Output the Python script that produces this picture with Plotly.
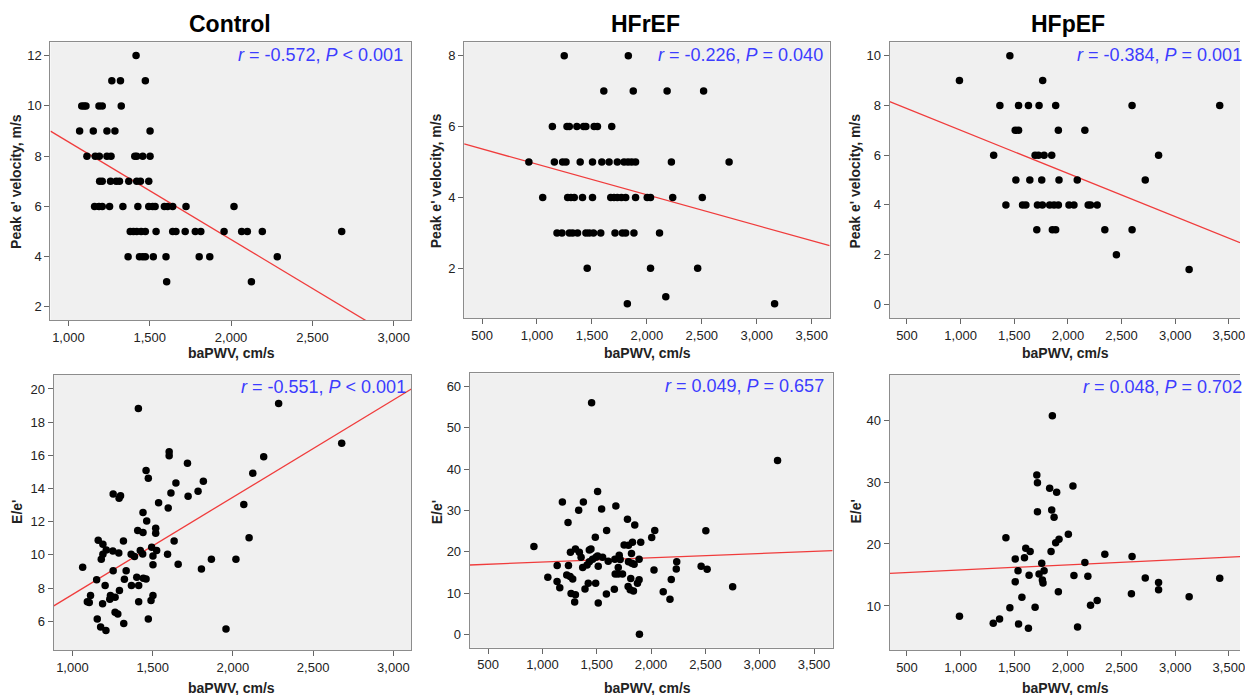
import plotly.graph_objects as go

# ---------------- DATA ----------------
group_titles = ["Control", "HFrEF", "HFpEF"]
x_label = "baPWV, cm/s"
y_label_top = "Peak e' velocity, m/s"
y_label_bottom = "E/e'"

# Control: baPWV vs peak e' velocity
ctrl_pwv_a = [1416,
              1267, 1320, 1473,
              1082, 1096, 1108, 1188, 1208, 1325,
              1069, 1153, 1237, 1286, 1502,
              1114, 1165, 1190, 1237, 1262, 1408, 1420, 1457, 1502,
              1192, 1208, 1259, 1294, 1314, 1371, 1420, 1443, 1494,
              1161, 1188, 1208, 1253, 1335, 1427, 1494, 1518, 1533, 1590, 1610, 1641, 1723, 2018,
              1380, 1400, 1420, 1447, 1473, 1539, 1641, 1661, 1718, 1780, 1814, 1957, 2065, 2100, 2192, 2680,
              1367, 1437, 1457, 1473, 1522, 1600, 1804, 1869, 2284,
              1604, 2125]
ctrl_evel = [12,
             11, 11, 11,
             10, 10, 10, 10, 10, 10,
             9, 9, 9, 9, 9,
             8, 8, 8, 8, 8, 8, 8, 8, 8,
             7, 7, 7, 7, 7, 7, 7, 7, 7,
             6, 6, 6, 6, 6, 6, 6, 6, 6, 6, 6, 6, 6, 6,
             5, 5, 5, 5, 5, 5, 5, 5, 5, 5, 5, 5, 5, 5, 5, 5,
             4, 4, 4, 4, 4, 4, 4, 4, 4,
             3, 3]

# HFrEF: baPWV vs peak e' velocity
hfr_pwv_a = [1248, 1831,
             1608, 1876, 2184, 2516,
             1140, 1273, 1294, 1363, 1424, 1445, 1520, 1550, 1680,
             926, 1158, 1233, 1264, 1393, 1505, 1590, 1656, 1731, 1792, 1828, 1861, 1897, 2223, 2748,
             1052, 1279, 1309, 1339, 1414, 1505, 1671, 1701, 1731, 1768, 1807, 1897, 2003, 2033, 2235, 2504,
             1182, 1227, 1294, 1324, 1369, 1445, 1475, 1514, 1580, 1710, 1777, 1807, 1882, 2115,
             1457, 2033, 2462,
             2172,
             1822, 3162]
hfr_evel = [8, 8,
            7, 7, 7, 7,
            6, 6, 6, 6, 6, 6, 6, 6, 6,
            5, 5, 5, 5, 5, 5, 5, 5, 5, 5, 5, 5, 5, 5, 5,
            4, 4, 4, 4, 4, 4, 4, 4, 4, 4, 4, 4, 4, 4, 4, 4,
            3, 3, 3, 3, 3, 3, 3, 3, 3, 3, 3, 3, 3, 3,
            2, 2, 2,
            1.2,
            1, 1]

# HFpEF: baPWV vs peak e' velocity
hfp_pwv_a = [1459,
             989, 1765,
             1366, 1540, 1632, 1731, 1886, 2598, 3415,
             1509, 1540, 1911, 2158,
             1308, 1694, 1725, 1778, 1849, 2845,
             1515, 1645, 1756, 1917, 2087, 2721,
             1422, 1577, 1608, 1716, 1762, 1830, 1871, 1911, 2010, 2056, 2189, 2211, 2273,
             1710, 1855, 1886, 2344, 2598,
             2452,
             3130]
hfp_evel = [10,
            9, 9,
            8, 8, 8, 8, 8, 8, 8,
            7, 7, 7, 7,
            6, 6, 6, 6, 6, 6,
            5, 5, 5, 5, 5, 5,
            4, 4, 4, 4, 4, 4, 4, 4, 4, 4, 4, 4, 4,
            3, 3, 3, 3, 3,
            2,
            1.4]

# Control: baPWV vs E/e'
ctrl_pwv_b = [1603, 1603, 1717, 2192, 2124, 1459, 1473, 1645, 1816, 1783, 1614, 1721, 1254, 1300, 1291,
              1537, 1597, 2068, 1440, 1463, 1407, 1440, 1519, 1519, 2101, 1161, 1190, 1318, 1634, 1211,
              1252, 1289, 1366, 1387, 1423, 1438, 1494, 1525, 1502, 1593, 1190, 1180, 1064, 1659, 1502,
              1866, 2019, 1804, 1254, 1335, 1151, 1324, 1401, 1442, 1459, 1204, 1368, 1413, 1293, 1113,
              1093, 1105, 1237, 1233, 1266, 1188, 1502, 1490, 1413, 1266, 1283, 1155, 1473, 1320, 1176,
              1209, 1957, 1411, 2285, 2678]
ctrl_ee = [16.22, 15.98, 15.52, 15.92, 14.92, 15.08, 14.62, 14.34, 14.44, 13.83, 13.73, 13.53, 13.67, 13.57, 13.41,
           13.15, 12.83, 13.03, 12.55, 12.05, 11.47, 11.35, 11.60, 11.30, 11.04, 10.88, 10.64, 10.84, 10.84, 10.30,
           10.24, 10.12, 10.04, 9.90, 10.26, 10.06, 10.46, 10.26, 9.94, 10.04, 10.04, 9.74, 9.25, 9.44, 9.40,
           9.74, 9.74, 9.15, 9.05, 9.05, 8.51, 8.53, 8.65, 8.59, 8.55, 8.15, 8.15, 8.15, 7.85, 7.55,
           7.18, 7.13, 7.55, 7.33, 7.45, 7.05, 7.55, 7.25, 7.18, 6.54, 6.44, 6.14, 6.14, 5.86, 5.66,
           5.44, 5.54, 18.82, 19.12, 16.73]

# HFrEF: baPWV vs E/e'
hfr_pwv_b = [1508, 1184, 1377, 1334, 1545, 1676, 1236, 1783, 1850, 1591, 2034, 1487, 2006, 922, 1752,
             1792, 1829, 1905, 1258, 1304, 1340, 1432, 1447, 1356, 1371, 1411, 1432, 1462, 1493, 1508,
             1554, 1514, 1606, 1667, 1707, 1716, 1792, 1820, 1823, 1844, 1890, 1698, 1136, 1240, 1224,
             1255, 1279, 1050, 1135, 1160, 1392, 1422, 1490, 1670, 1698, 1737, 1813, 1890, 1875, 1789,
             1808, 1838, 1662, 1589, 1264, 1304, 1297, 1514, 2027, 2236, 2232, 2186, 2112, 2174, 2461,
             2516, 2504, 1453, 3164, 2751, 1893]
hfr_ee = [34.56, 32.06, 32.06, 30.04, 30.37, 31.09, 27.05, 27.86, 26.49, 25.12, 25.12, 23.5, 23.42, 21.24, 21.64,
          21.56, 22.29, 22.29, 19.9, 20.67, 19.85, 20.42, 20.67, 18.65, 16.2, 16.8, 17.6, 18.2, 18.65, 19.0,
          18.65, 16.5, 17.7, 18.2, 19.15, 18.1, 17.6, 19.6, 17.2, 17.0, 18.2, 16.2, 16.7, 16.7, 14.4,
          14.0, 13.4, 13.8, 12.8, 11.3, 11.0, 12.4, 12.4, 14.6, 14.6, 14.6, 13.5, 13.2, 12.4, 11.6,
          10.8, 10.5, 10.9, 9.8, 9.9, 9.6, 7.85, 7.6, 15.6, 17.6, 15.8, 13.3, 10.3, 8.5, 16.5,
          15.75, 25.1, 56.1, 42.07, 11.55, 0.0]

# HFpEF: baPWV vs E/e'
hfp_pwv_b = [1710, 1716, 1830, 1895, 2047, 1716, 1849, 1871, 2004, 1422, 1917, 1886, 1843, 1607, 1648,
             1595, 1509, 2344, 2598, 2158, 1756, 1778, 1535, 1731, 1638, 2056, 2186, 1762, 1509, 1768,
             2721, 2845, 2845, 1911, 2592, 1571, 2273, 2211, 1459, 1694, 1363, 1855, 989, 1304, 1540,
             1632, 2090, 3130, 3415]
hfp_ee = [31.13, 29.89, 28.98, 28.33, 29.35, 25.2, 25.48, 24.3, 21.56, 21.02, 20.75, 20.2, 18.8, 19.3, 18.8,
          17.8, 17.58, 18.33, 18.0, 17.0, 16.9, 15.7, 15.7, 15.16, 14.95, 14.9, 14.8, 14.2, 13.9, 13.7,
          14.5, 13.8, 12.6, 12.3, 11.99, 11.4, 10.9, 10.1, 9.7, 9.8, 7.9, 40.7, 8.33, 7.2, 7.1,
          6.4, 6.6, 11.5, 14.46]

# Fit lines as drawn (intercept, slope)
fit_intercept = [12.46, 5.80, 8.74, 1.745, 16.45, 14.99]
fit_slope = [-0.00389, -0.000863, -0.001737, 0.005866, 0.001039, 0.000824]

stat_labels = ["<i>r</i> = -0.572, <i>P</i> < 0.001",
               "<i>r</i> = -0.226, <i>P</i> = 0.040",
               "<i>r</i> = -0.384, <i>P</i> = 0.001",
               "<i>r</i> = -0.551, <i>P</i> < 0.001",
               "<i>r</i> = 0.049, <i>P</i> = 0.657",
               "<i>r</i> = 0.048, <i>P</i> = 0.702"]

x_ranges = [[890, 3108], [337, 3663], [339, 3604], [884, 3112], [332, 3671], [339, 3604]]
y_ranges = [[1.48, 12.53], [0.60, 8.376], [-0.56, 10.54], [4.27, 20.84], [-3.23, 63.2], [2.9, 47.26]]
x_ticks = [[1000, 1500, 2000, 2500, 3000], [500, 1000, 1500, 2000, 2500, 3000, 3500],
           [500, 1000, 1500, 2000, 2500, 3000, 3500], [1000, 1500, 2000, 2500, 3000],
           [500, 1000, 1500, 2000, 2500, 3000, 3500], [500, 1000, 1500, 2000, 2500, 3000, 3500]]
y_ticks = [[2, 4, 6, 8, 10, 12], [2, 4, 6, 8], [0, 2, 4, 6, 8, 10],
           [6, 8, 10, 12, 14, 16, 18, 20], [0, 10, 20, 30, 40, 50, 60], [10, 20, 30, 40]]

# ---------------- LAYOUT ----------------
W, H = 1245, 695
# plot areas in pixels: (left, right, top, bottom)
boxes = [(50.7, 413, 42.3, 320), (466, 833, 42.3, 318), (893.3, 1245, 42.3, 318.3),
         (54, 413, 375, 650), (471.7, 836, 373.3, 647.7), (893.3, 1245, 375, 650)]

xs = [ctrl_pwv_a, hfr_pwv_a, hfp_pwv_a, ctrl_pwv_b, hfr_pwv_b, hfp_pwv_b]
ys = [ctrl_evel, hfr_evel, hfp_evel, ctrl_ee, hfr_ee, hfp_ee]

FONT = "Arial, Liberation Sans, sans-serif"
fig = go.Figure()
layout = dict(width=W, height=H, margin=dict(l=0, r=0, t=0, b=0),
              paper_bgcolor="white", plot_bgcolor="#f0f0f0", showlegend=False,
              font=dict(family=FONT, color="#222"))
annotations = []

def px(v):
    return v / W

def py(v):
    return 1 - v / H

for i in range(6):
    n = "" if i == 0 else str(i + 1)
    xa, ya = "x" + n, "y" + n
    l, r, t, b = boxes[i]
    clipped = r >= W
    layout["xaxis" + n] = dict(domain=[px(l), min(1.0, px(r))], range=x_ranges[i], anchor=ya,
                               tickvals=x_ticks[i], tickformat=",d", ticks="outside", ticklen=5,
                               tickcolor="#666", showgrid=False, zeroline=False, showline=True,
                               linecolor="#8c8c8c", linewidth=1.2, mirror=True,
                               ticklabeloverflow="allow",
                               tickfont=dict(size=13, color="#222"))
    layout["yaxis" + n] = dict(domain=[py(b), py(t)], range=y_ranges[i], anchor=xa,
                               tickvals=y_ticks[i], ticks="outside", ticklen=5, tickcolor="#666",
                               showgrid=False, zeroline=False, showline=True, linecolor="#8c8c8c",
                               linewidth=1.2, mirror=(not clipped),
                               tickfont=dict(size=13, color="#222"))
    x0, x1 = x_ranges[i]
    fig.add_trace(go.Scatter(x=[x0, x1],
                             y=[fit_intercept[i] + fit_slope[i] * x0, fit_intercept[i] + fit_slope[i] * x1],
                             mode="lines", line=dict(color="#f03c3c", width=1.3),
                             xaxis=xa, yaxis=ya, cliponaxis=True, hoverinfo="skip"))
    fig.add_trace(go.Scatter(x=xs[i], y=ys[i], mode="markers",
                             marker=dict(color="black", size=7.5, line=dict(width=0)),
                             xaxis=xa, yaxis=ya))

# group titles
title_pos = [231, 648, 1072]
for k, name in enumerate(group_titles):
    annotations.append(dict(text="<b>" + name + "</b>", x=px(title_pos[k]), y=py(24), xref="paper",
                            yref="paper", showarrow=False, xanchor="center", yanchor="middle",
                            font=dict(size=23, color="black", family=FONT)))

# axis titles
xt_centers = [232, 650, 1070]
for row, yy in enumerate([353, 688]):
    for k in range(3):
        annotations.append(dict(text="<b>" + x_label + "</b>", x=px(xt_centers[k]), y=py(yy),
                                xref="paper", yref="paper", showarrow=False, xanchor="center",
                                yanchor="middle", font=dict(size=14, color="#222", family=FONT)))
yt_x = [16, 438, 858]
for k in range(3):
    annotations.append(dict(text="<b>" + y_label_top + "</b>", x=px(yt_x[k]), y=py(181),
                            xref="paper", yref="paper", showarrow=False, textangle=-90,
                            xanchor="center", yanchor="middle",
                            font=dict(size=14, color="#222", family=FONT)))
    annotations.append(dict(text="<b>" + y_label_bottom + "</b>", x=px(yt_x[k] + 1), y=py(512),
                            xref="paper", yref="paper", showarrow=False, textangle=-90,
                            xanchor="center", yanchor="middle",
                            font=dict(size=14, color="#222", family=FONT)))

# r / P labels
stat_pos = [(407, 55, "right"), (828, 55, "right"), (1079, 55, "left"),
            (410, 387, "right"), (829, 386, "right"), (1085, 387, "left")]
for i, (sx, sy, anc) in enumerate(stat_pos):
    annotations.append(dict(text=stat_labels[i], x=px(sx), y=py(sy), xref="paper", yref="paper",
                            showarrow=False, xanchor=anc, yanchor="middle",
                            font=dict(size=18, color="#3c3cff", family=FONT)))

layout["annotations"] = annotations
fig.update_layout(**layout)

fig.write_html("out.html", config={"displayModeBar": False},
               post_script="document.body.style.margin='0';document.body.style.overflow='hidden';")
